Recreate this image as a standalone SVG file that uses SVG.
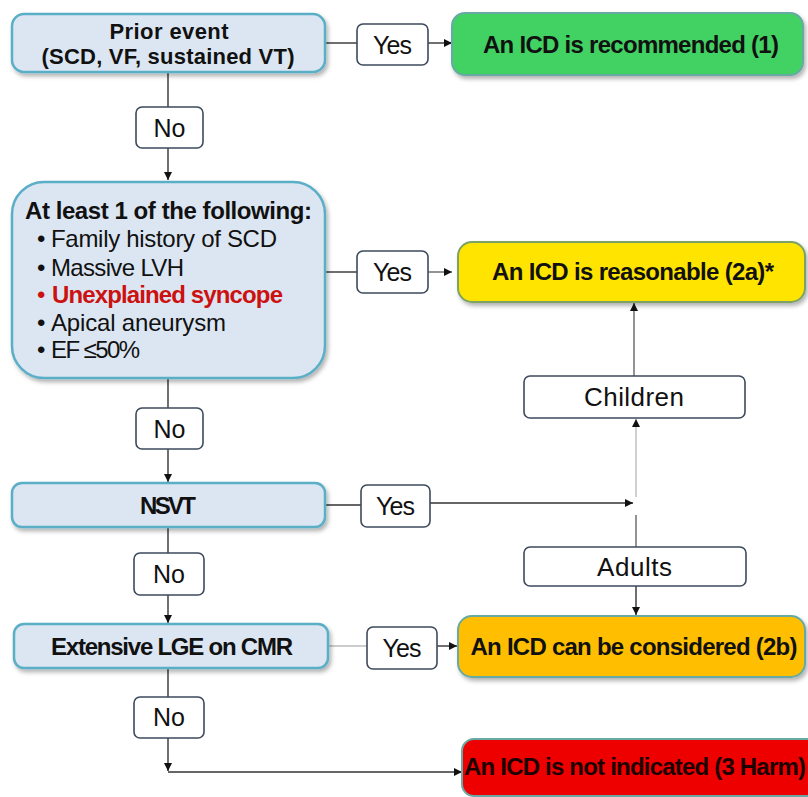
<svg xmlns="http://www.w3.org/2000/svg" width="808" height="797" viewBox="0 0 808 797">
<style>
  text { font-family: "Liberation Sans", Arial, sans-serif; fill: #111; }
  .b { font-weight: bold; }
  .q { fill: #dce6f2; stroke: #5aaec6; stroke-width: 2.5; }
  .lbl { fill: #ffffff; stroke: #3d4a5c; stroke-width: 1.6; }
  .res { stroke: #66aaa3; stroke-width: 2; }
  .c { fill: none; stroke: #333; stroke-width: 1.4; }
  .cl { fill: none; stroke: #bdbdbd; stroke-width: 1.4; }
  .cg { fill: none; stroke: #666; stroke-width: 1.4; }
  .t22 { font-size: 22px; }
  .t23 { font-size: 24px; }
  .t24 { font-size: 25px; }
  .t25 { font-size: 26px; }
</style>
<defs>
  <marker id="ah" viewBox="0 0 10 10" refX="10" refY="5" markerWidth="9" markerHeight="8" markerUnits="userSpaceOnUse" orient="auto">
    <path d="M0,0 L10,5 L0,10 z" fill="#111"/>
  </marker>
  <filter id="sh" x="-10%" y="-20%" width="120%" height="150%">
    <feDropShadow dx="2" dy="3" stdDeviation="2" flood-color="#000" flood-opacity="0.3"/>
  </filter>
</defs>
<rect width="808" height="797" fill="#ffffff"/>

<g id="connectors">
  <path class="c" d="M325 43 H357"/>
  <path class="c" d="M428 43 H452" marker-end="url(#ah)"/>
  <path class="c" d="M168 72 V107"/>
  <path class="c" d="M168 148 V180" marker-end="url(#ah)"/>
  <path class="c" d="M325 272 H357"/>
  <path class="cg" d="M428 272 H452" marker-end="url(#ah)"/>
  <path class="c" d="M168 378 V408"/>
  <path class="c" d="M168 449 V482" marker-end="url(#ah)"/>
  <path class="c" d="M325 505 H361"/>
  <path class="c" d="M430 503 H633" marker-end="url(#ah)"/>
  <path class="cl" d="M636 497 V419" marker-end="url(#ah)"/>
  <path class="cg" d="M634 376 V303" marker-end="url(#ah)"/>
  <path class="cg" d="M636 515 V547"/>
  <path class="c" d="M636 586 V615" marker-end="url(#ah)"/>
  <path class="c" d="M168 527 V553"/>
  <path class="c" d="M168 595 V623" marker-end="url(#ah)"/>
  <path class="cl" d="M328 646 H367"/>
  <path class="c" d="M437 646 H457" marker-end="url(#ah)"/>
  <path class="c" d="M168 668 V697"/>
  <path class="c" d="M168 738 V771" marker-end="url(#ah)"/>
  <path class="c" d="M168 772 H462" marker-end="url(#ah)"/>
</g>

<g id="n-prior">
  <rect class="q" x="12" y="14" width="313" height="58" rx="12" filter="url(#sh)"/>
  <text class="b t22" x="169" y="39" text-anchor="middle" textLength="119">Prior event</text>
  <text class="b t22" x="168" y="64" text-anchor="middle" textLength="253">(SCD, VF, sustained VT)</text>
</g>

<g id="n-criteria">
  <rect class="q" x="12" y="182" width="313" height="196" rx="32" filter="url(#sh)"/>
  <text class="b t23" x="25" y="219" textLength="287">At least 1 of the following:</text>
  <text class="t23" x="37" y="247">•</text>
  <text class="t23" x="51" y="247" textLength="226">Family history of SCD</text>
  <text class="t23" x="37" y="276">•</text>
  <text class="t23" x="51" y="276" textLength="133">Massive LVH</text>
  <text class="t23" x="37" y="303" style="fill:#cc1111">•</text>
  <text class="b t23" x="52" y="303" textLength="231" style="fill:#cc1111">Unexplained syncope</text>
  <text class="t23" x="37" y="331">•</text>
  <text class="t23" x="51" y="331" textLength="175">Apical aneurysm</text>
  <text class="t23" x="37" y="358">•</text>
  <text class="t23" x="51" y="358" textLength="89">EF ≤50%</text>
</g>

<g id="n-nsvt">
  <rect class="q" x="12" y="483" width="313" height="44" rx="10" filter="url(#sh)"/>
  <text class="b t23" x="168" y="514" text-anchor="middle" textLength="56">NSVT</text>
</g>

<g id="n-lge">
  <rect class="q" x="14" y="624" width="314" height="44" rx="10" filter="url(#sh)"/>
  <text class="b t23" x="172" y="655" text-anchor="middle" textLength="242">Extensive LGE on CMR</text>
</g>

<g id="n-recommended">
  <rect class="res" x="452" y="13" width="351" height="62" rx="13" fill="#42d164" filter="url(#sh)"/>
  <text class="b t23" x="631" y="53" text-anchor="middle" textLength="296">An ICD is recommended (1)</text>
</g>

<g id="n-reasonable">
  <rect class="res" x="458" y="242" width="347" height="60" rx="14" fill="#ffe400" style="stroke:#7ba266" filter="url(#sh)"/>
  <text class="b t23" x="633" y="280" text-anchor="middle" textLength="282">An ICD is reasonable (2a)*</text>
</g>

<g id="n-considered">
  <rect class="res" x="458" y="616" width="347" height="61" rx="14" fill="#ffbf00" filter="url(#sh)"/>
  <text class="b t23" x="634" y="655" text-anchor="middle" textLength="327">An ICD can be considered (2b)</text>
</g>

<g id="n-notindicated">
  <rect class="res" x="462" y="739" width="360" height="57" rx="12" fill="#ee0000"/>
  <text class="b t23" x="464" y="775" textLength="342" style="fill:#1c0000">An ICD is not indicated (3 Harm)</text>
</g>

<g id="l-yes1">
  <rect class="lbl" x="357" y="24" width="71" height="41" rx="6"/>
  <text class="t24" x="392.5" y="54" text-anchor="middle" textLength="39">Yes</text>
</g>
<g id="l-no1">
  <rect class="lbl" x="136" y="107" width="67" height="41" rx="6"/>
  <text class="t24" x="169.5" y="137" text-anchor="middle" textLength="32">No</text>
</g>
<g id="l-yes2">
  <rect class="lbl" x="357" y="251" width="71" height="42" rx="6"/>
  <text class="t24" x="392.5" y="281" text-anchor="middle" textLength="39">Yes</text>
</g>
<g id="l-no2">
  <rect class="lbl" x="136" y="408" width="67" height="41" rx="6"/>
  <text class="t24" x="169.5" y="438" text-anchor="middle" textLength="32">No</text>
</g>
<g id="l-yes3">
  <rect class="lbl" x="361" y="485" width="69" height="42" rx="6"/>
  <text class="t24" x="395.5" y="515" text-anchor="middle" textLength="39">Yes</text>
</g>
<g id="l-no3">
  <rect class="lbl" x="134" y="553" width="70" height="42" rx="6"/>
  <text class="t24" x="169" y="583" text-anchor="middle" textLength="32">No</text>
</g>
<g id="l-yes4">
  <rect class="lbl" x="367" y="627" width="70" height="42" rx="6"/>
  <text class="t24" x="402" y="657" text-anchor="middle" textLength="39">Yes</text>
</g>
<g id="l-no4">
  <rect class="lbl" x="134" y="697" width="70" height="41" rx="6"/>
  <text class="t24" x="169" y="726" text-anchor="middle" textLength="32">No</text>
</g>
<g id="l-children">
  <rect class="lbl" x="524" y="376" width="221" height="42" rx="6"/>
  <text class="t25" x="634" y="406" text-anchor="middle" textLength="100">Children</text>
</g>
<g id="l-adults">
  <rect class="lbl" x="524" y="547" width="222" height="39" rx="6"/>
  <text class="t25" x="634.5" y="576" text-anchor="middle" textLength="75">Adults</text>
</g>
</svg>
